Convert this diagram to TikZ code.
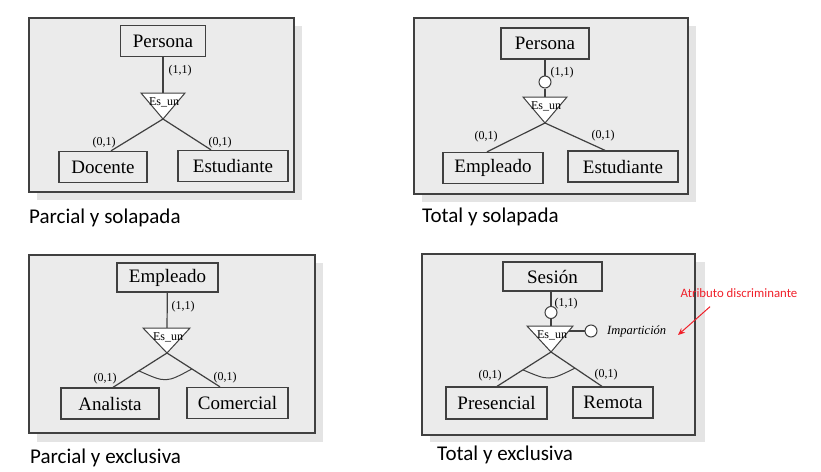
\documentclass[tikz,border=0pt]{standalone}
\usepackage{fontspec}
\setmainfont{Liberation Serif}
\newfontfamily\calfont{Carlito}
\usetikzlibrary{arrows.meta,calc}
\definecolor{panelbg}{HTML}{EBEBEB}
\definecolor{shadowc}{HTML}{E4E4E4}
\definecolor{linec}{HTML}{404040}
\definecolor{redc}{HTML}{F0202A}
\begin{document}
\begin{tikzpicture}[x=1pt,y=-1pt,
 panel/.style={draw=linec, line width=1.6pt, fill=panelbg},
 shadowbox/.style={fill=shadowc},
 ent/.style={draw=linec, line width=1.3pt, font=\fontsize{19}{22}\selectfont, minimum height=31pt, inner sep=0pt},
 card/.style={font=\fontsize{12}{14}\selectfont, inner sep=0pt},
 esun/.style={font=\fontsize{12}{14}\selectfont, inner sep=0pt},
 tri/.style={draw=linec, line width=1pt, fill=white},
 conn/.style={draw=linec, line width=1.2pt},
 attrc/.style={circle, draw=linec, line width=1pt, fill=white, minimum size=12pt, inner sep=0pt},
 caption/.style={font=\calfont\fontsize{21}{25}\selectfont, anchor=west, inner sep=0pt},
]
\useasboundingbox (0,0) rectangle (821,471);

% ---------- Panel 1: Parcial y solapada
\fill[shadowbox] (37,26) rectangle (302,200);
\draw[panel] (29,18) rectangle (294,192);
\node[ent, minimum width=85pt] (p1) at (163,41) {Persona};
\coordinate (t1top) at (163,93);
\coordinate (t1apex) at (163,119);
\draw[conn] (p1) -- (t1top);
\draw[tri] (141,93) -- (185,93) -- (t1apex) -- cycle;
\node[esun] (e1) at (164,102) {Es\_un};
\node[ent, minimum width=88pt] (d1) at (103,167) {Docente};
\node[ent, minimum width=110pt] (s1) at (233,166) {Estudiante};
\draw[conn] (t1apex) -- ([xshift=8pt]d1.north);
\draw[conn] (t1apex) -- ([xshift=-22pt]s1.north);
\node[card] (c1a) at (180,71) {(1,1)};
\node[card] (c1b) at (104,143) {(0,1)};
\node[card] (c1c) at (220,143) {(0,1)};
\node[caption] (cap1) at (29,218) {Parcial y solapada};

% ---------- Panel 2: Total y solapada
\fill[shadowbox] (422,26) rectangle (696,202);
\draw[panel] (414,18) rectangle (688,194);
\node[ent, minimum width=88pt] (p2) at (545,43.5) {Persona};
\node[attrc] (o2) at (545,82) {};
\coordinate (t2top) at (545,97);
\coordinate (t2apex) at (545,123);
\draw[conn] (p2) -- (o2);
\draw[conn] (o2) -- (t2top);
\draw[tri] (523,97) -- (567,97) -- (t2apex) -- cycle;
\node[esun] (e2) at (546,106) {Es\_un};
\node[ent, minimum width=100pt] (d2) at (493,168) {Empleado};
\node[ent, minimum width=110pt] (s2) at (623,166.5) {Estudiante};
\draw[conn] (t2apex) -- ([xshift=-6pt]d2.north);
\draw[conn] (t2apex) -- ([xshift=-18pt]s2.north);
\node[card] (c2a) at (562,73) {(1,1)};
\node[card] (c2b) at (486,137) {(0,1)};
\node[card] (c2c) at (603,136) {(0,1)};
\node[caption] (cap2) at (422,217) {Total y solapada};

% ---------- Panel 3: Parcial y exclusiva
\fill[shadowbox] (37,263) rectangle (323,442);
\draw[panel] (29,255) rectangle (315,433);
\node[ent, minimum width=101pt, minimum height=29pt] (p3) at (167.5,277.5) {Empleado};
\coordinate (t3top) at (167,328);
\coordinate (t3apex) at (167,353);
\draw[conn] (p3) -- (t3top);
\draw[tri] (143,328) -- (190,328) -- (t3apex) -- cycle;
\node[esun] (e3) at (168,337) {Es\_un};
\node[ent, minimum width=98pt] (d3) at (110,403.5) {Analista};
\node[ent, minimum width=101pt] (s3) at (237.5,403) {Comercial};
\draw[conn] (t3apex) -- ([xshift=3pt]d3.north);
\draw[conn] (t3apex) -- ([xshift=-17.5pt]s3.north);
\coordinate (a3l) at ($(t3apex)!0.52!([xshift=3pt]d3.north)$);
\coordinate (a3r) at ($(t3apex)!0.47!([xshift=-17.5pt]s3.north)$);
\draw[conn, line width=1pt] (a3l) .. controls (166,383) .. (a3r);
\node[card] (c3a) at (183,307) {(1,1)};
\node[card] (c3b) at (105,379) {(0,1)};
\node[card] (c3c) at (225,378) {(0,1)};
\node[caption] (cap3) at (30,458) {Parcial y exclusiva};

% ---------- Panel 4: Total y exclusiva
\fill[shadowbox] (430,262) rectangle (705,442);
\draw[panel] (422,254) rectangle (695,435);
\node[ent, minimum width=99pt, minimum height=29pt] (p4) at (552.5,276.5) {Sesión};
\node[attrc] (o4) at (551,312.5) {};
\coordinate (t4top) at (551,326);
\coordinate (t4apex) at (551,352);
\draw[conn] (p4.south -| o4) -- (o4);
\draw[conn] (o4) -- (t4top);
\draw[tri] (527,326) -- (573,326) -- (t4apex) -- cycle;
\node[esun] (e4) at (552,335) {Es\_un};
\node[attrc] (o4b) at (591,331) {};
\coordinate (t4side) at (568.5,331);
\draw[conn] (t4side) -- (o4b);
\node[font=\fontsize{12.5}{15}\selectfont\itshape, anchor=west, inner sep=0pt] (imp) at (607,331) {Impartición};
\node[ent, minimum width=101pt, minimum height=32pt] (d4) at (496.5,403) {Presencial};
\node[ent, minimum width=80pt] (s4) at (613,402.5) {Remota};
\draw[conn] (t4apex) -- ([xshift=0.5pt]d4.north);
\draw[conn] (t4apex) -- ([xshift=-11pt]s4.north);
\coordinate (a4l) at ($(t4apex)!0.52!([xshift=0.5pt]d4.north)$);
\coordinate (a4r) at ($(t4apex)!0.47!([xshift=-11pt]s4.north)$);
\draw[conn, line width=1pt] (a4l) .. controls (549,381) .. (a4r);
\node[card] (c4a) at (566,304) {(1,1)};
\node[card] (c4b) at (490,376) {(0,1)};
\node[card] (c4c) at (606,375) {(0,1)};
\node[caption] (cap4) at (437,455) {Total y exclusiva};

% red annotation
\node[font=\calfont\fontsize{12.8}{15}\selectfont, text=redc, inner sep=0pt] (disc) at (739,293) {Atributo discriminante};
\coordinate (arrtip) at (678,335);
\draw[redc, line width=1pt, -{Stealth[length=7pt,width=6pt]}] ([xshift=-29pt,yshift=-9pt]disc.south) -- (arrtip);
\end{tikzpicture}
\end{document}
